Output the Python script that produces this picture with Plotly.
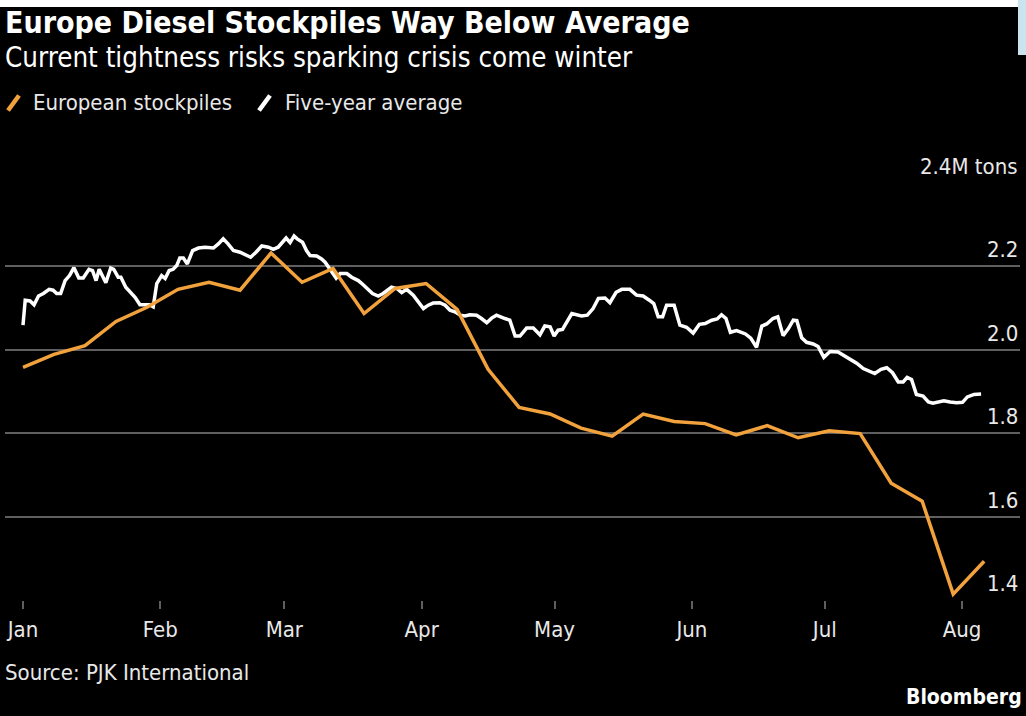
import pandas as pd
import plotly.graph_objects as go

# ---------------- data ----------------
YEAR_START = "2022-01-01"

# European stockpiles (weekly), million tons
euro_dates = ["2022-01-01", "2022-01-08", "2022-01-15", "2022-01-22", "2022-01-29",
              "2022-02-05", "2022-02-12", "2022-02-19", "2022-02-26", "2022-03-05",
              "2022-03-12", "2022-03-19", "2022-03-26", "2022-04-02", "2022-04-09",
              "2022-04-16", "2022-04-23", "2022-04-30", "2022-05-07", "2022-05-14",
              "2022-05-21", "2022-05-28", "2022-06-04", "2022-06-11", "2022-06-18",
              "2022-06-25", "2022-07-02", "2022-07-09", "2022-07-16", "2022-07-23",
              "2022-07-30", "2022-08-06"]
euro_values = [1.958, 1.989, 2.010, 2.068, 2.102, 2.145, 2.162, 2.143, 2.232, 2.162,
               2.195, 2.087, 2.147, 2.159, 2.097, 1.953, 1.862, 1.846, 1.812, 1.793,
               1.846, 1.828, 1.823, 1.796, 1.818, 1.789, 1.806, 1.799, 1.680, 1.637,
               1.414, 1.493]

# Five-year average: days since Jan 1 and values, million tons
avg_days = [0.0, 0.5, 1.6, 2.5, 3.5, 4.6, 5.9, 6.8, 7.6, 8.5, 9.5, 10.5, 11.5, 12.6,
            13.6, 14.9, 15.7, 16.5, 17.2, 18.0, 18.7, 19.8, 20.5, 21.5, 22.1, 23.2,
            24.3, 25.3, 26.4, 27.5, 28.5, 29.4, 30.2, 31.3, 32.1, 33.0, 33.9, 34.7,
            35.4, 36.2, 37.1, 38.3, 39.6, 41.1, 43.0, 44.1, 45.2, 46.3, 47.5, 49.0,
            50.1, 51.4, 52.6, 53.9, 55.4, 56.5, 57.6, 58.8, 59.4, 60.3, 61.2, 61.9,
            63.1, 64.0, 64.8, 66.3, 67.4, 68.2, 69.1, 70.7, 71.6, 73.1, 74.2, 75.7,
            76.8, 78.0, 78.9, 80.2, 81.3, 83.2, 84.4, 85.5, 86.6, 88.1, 89.2, 90.4,
            91.5, 92.6, 94.1, 95.3, 96.4, 97.5, 98.7, 99.8, 100.9, 102.4, 103.5,
            104.7, 105.8, 106.9, 108.8, 109.9, 111.1, 112.2, 113.7, 115.2, 116.7,
            117.8, 119.0, 119.9, 120.8, 121.8, 123.9, 125.0, 126.1, 127.4, 128.7,
            129.9, 131.4, 132.5, 133.9, 135.2, 137.0, 138.5, 140.0, 141.4, 142.4,
            143.4, 144.4, 145.3, 147.0, 148.3, 149.8, 151.3, 152.7, 154.0, 155.5,
            156.7, 157.7, 158.7, 159.7, 161.1, 163.1, 164.3, 165.6, 166.8, 167.9,
            169.3, 170.4, 171.6, 172.8, 173.9, 174.7, 175.8, 176.9, 178.4, 179.5,
            180.8, 182.2, 184.0, 185.3, 186.9, 188.2, 189.7, 191.0, 192.3, 193.7,
            195.0, 196.3, 197.6, 198.7, 199.6, 200.6, 201.7, 203.2, 204.4, 205.4,
            206.6, 207.9, 209.3, 210.8, 212.1, 213.2, 214.7, 216.3]
avg_values = [2.059, 2.119, 2.117, 2.108, 2.129, 2.135, 2.145, 2.143, 2.135, 2.135,
              2.166, 2.178, 2.197, 2.172, 2.172, 2.193, 2.190, 2.166, 2.193, 2.178,
              2.161, 2.196, 2.193, 2.174, 2.174, 2.150, 2.138, 2.126, 2.108, 2.107,
              2.108, 2.103, 2.159, 2.178, 2.171, 2.190, 2.193, 2.202, 2.220, 2.220,
              2.206, 2.238, 2.244, 2.246, 2.244, 2.254, 2.266, 2.254, 2.238, 2.234,
              2.228, 2.222, 2.234, 2.249, 2.246, 2.241, 2.246, 2.262, 2.268, 2.257,
              2.273, 2.266, 2.258, 2.238, 2.226, 2.225, 2.218, 2.210, 2.196, 2.172,
              2.183, 2.183, 2.174, 2.166, 2.156, 2.143, 2.135, 2.129, 2.135, 2.150,
              2.147, 2.137, 2.145, 2.131, 2.115, 2.099, 2.107, 2.112, 2.113, 2.107,
              2.095, 2.091, 2.083, 2.081, 2.084, 2.083, 2.075, 2.065, 2.076, 2.083,
              2.075, 2.071, 2.033, 2.033, 2.052, 2.052, 2.036, 2.057, 2.055, 2.033,
              2.047, 2.049, 2.087, 2.084, 2.081, 2.083, 2.099, 2.123, 2.124, 2.113,
              2.138, 2.145, 2.145, 2.131, 2.129, 2.119, 2.111, 2.079, 2.079, 2.107,
              2.107, 2.059, 2.054, 2.040, 2.061, 2.063, 2.071, 2.074, 2.084, 2.075,
              2.042, 2.046, 2.038, 2.028, 2.006, 2.057, 2.062, 2.075, 2.079, 2.034,
              2.051, 2.071, 2.070, 2.029, 2.018, 2.014, 2.008, 1.982, 1.996, 1.995,
              1.986, 1.975, 1.968, 1.955, 1.949, 1.943, 1.953, 1.957, 1.945, 1.923,
              1.923, 1.934, 1.929, 1.893, 1.889, 1.875, 1.872, 1.875, 1.878, 1.875,
              1.873, 1.874, 1.887, 1.893, 1.894]

y_tick_values = [1.4, 1.6, 1.8, 2.0, 2.2, 2.4]
y_tick_labels = ["1.4", "1.6", "1.8", "2.0", "2.2", "2.4M tons"]

series_names = ["European stockpiles", "Five-year average"]
title_text = "Europe Diesel Stockpiles Way Below Average"
subtitle_text = "Current tightness risks sparking crisis come winter"
source_text = "Source: PJK International"
brand_text = "Bloomberg"

# ---------------- styling ----------------
ORANGE = "#f2a23c"
WHITE = "#ffffff"
GRID = "#5f5f5f"
TEXT = "#e8e8e8"
FONT = "DejaVu Sans Condensed, DejaVu Sans, sans-serif"

avg_dates = pd.Timestamp(YEAR_START) + pd.to_timedelta(avg_days, unit="D")

fig = go.Figure()
fig.add_trace(go.Scatter(x=avg_dates, y=avg_values, mode="lines",
                         line=dict(color=WHITE, width=3.5), name=series_names[1],
                         showlegend=False))
fig.add_trace(go.Scatter(x=pd.to_datetime(euro_dates), y=euro_values, mode="lines",
                         line=dict(color=ORANGE, width=3.5), name=series_names[0],
                         showlegend=False))

W, H = 1026, 716
ML, MR, MT, MB = 5, 6, 183, 116
PW, PH = W - ML - MR, H - MT - MB


def py(px):
    """pixel y (from top) -> paper y"""
    return (H - MB - px) / PH


def pxx(px):
    return (px - ML) / PW


ann = []
ann.append(dict(text="<b>" + title_text + "</b>", x=pxx(3), y=py(23), xref="paper",
                yref="paper", xanchor="left", yanchor="middle", showarrow=False,
                font=dict(size=30, color=WHITE, family=FONT)))
ann.append(dict(text=subtitle_text, x=pxx(3), y=py(57), xref="paper", yref="paper",
                xanchor="left", yanchor="middle", showarrow=False,
                font=dict(size=27.5, color=WHITE, family=FONT)))
legend_texts = [dict(text=series_names[0], x=31), dict(text=series_names[1], x=283)]
for it in legend_texts:
    ann.append(dict(text=it["text"], x=pxx(it["x"]), y=py(102), xref="paper",
                    yref="paper", xanchor="left", yanchor="middle", showarrow=False,
                    font=dict(size=22, color=TEXT, family=FONT)))
ann.append(dict(text=source_text, x=pxx(3), y=py(672), xref="paper", yref="paper",
                xanchor="left", yanchor="middle", showarrow=False,
                font=dict(size=22, color=TEXT, family=FONT)))
ann.append(dict(text="<b>" + brand_text + "</b>", x=pxx(1024), y=py(697), xref="paper",
                yref="paper", xanchor="right", yanchor="middle", showarrow=False,
                font=dict(size=21, color=WHITE, family=FONT)))
for v, lab in zip(y_tick_values, y_tick_labels):
    ann.append(dict(text=lab, x=1, y=v, xref="paper", yref="y", xanchor="right",
                    yanchor="bottom", yshift=2, showarrow=False,
                    font=dict(size=22, color=TEXT, family=FONT)))

shapes = [
    dict(type="rect", xref="paper", yref="paper", x0=pxx(0), x1=pxx(W), y0=py(7),
         y1=py(0), fillcolor="#ffffff", line=dict(width=0), layer="above"),
    dict(type="rect", xref="paper", yref="paper", x0=pxx(1018), x1=pxx(W), y0=py(55),
         y1=py(0), fillcolor="#c9e4ee", line=dict(width=0), layer="above"),
    # legend key slashes
    dict(type="line", xref="paper", yref="paper", x0=pxx(8), y0=py(110.5),
         x1=pxx(19), y1=py(95.5), line=dict(color=ORANGE, width=4.5)),
    dict(type="line", xref="paper", yref="paper", x0=pxx(259), y0=py(110.5),
         x1=pxx(270), y1=py(95.5), line=dict(color=WHITE, width=4.5)),
]

fig.update_layout(
    width=W, height=H,
    margin=dict(l=ML, r=MR, t=MT, b=MB, pad=0),
    paper_bgcolor="#000000", plot_bgcolor="#000000",
    font=dict(family=FONT, color=TEXT, size=22),
    annotations=ann, shapes=shapes, showlegend=False,
    xaxis=dict(type="date", range=["2021-12-27 22:30", "2022-08-14 02:00"],
               tick0="2022-01-01", dtick="M1", tickformat="%b",
               ticks="outside", ticklen=8, tickwidth=1.5, tickcolor=GRID,
               showgrid=False, showline=False, zeroline=False,
               tickfont=dict(size=22, color=TEXT, family=FONT),
               ticklabelstandoff=2, fixedrange=True),
    yaxis=dict(range=[1.4, 2.4], tickvals=y_tick_values, showticklabels=False,
               showgrid=True, gridcolor=GRID, gridwidth=1.5, zeroline=False,
               showline=False, fixedrange=True),
)
fig.write_html("out.html", config={"displayModeBar": False},
               post_script="document.body.style.margin='0';"
                           "document.body.style.padding='0';"
                           "document.body.style.overflow='hidden';")
